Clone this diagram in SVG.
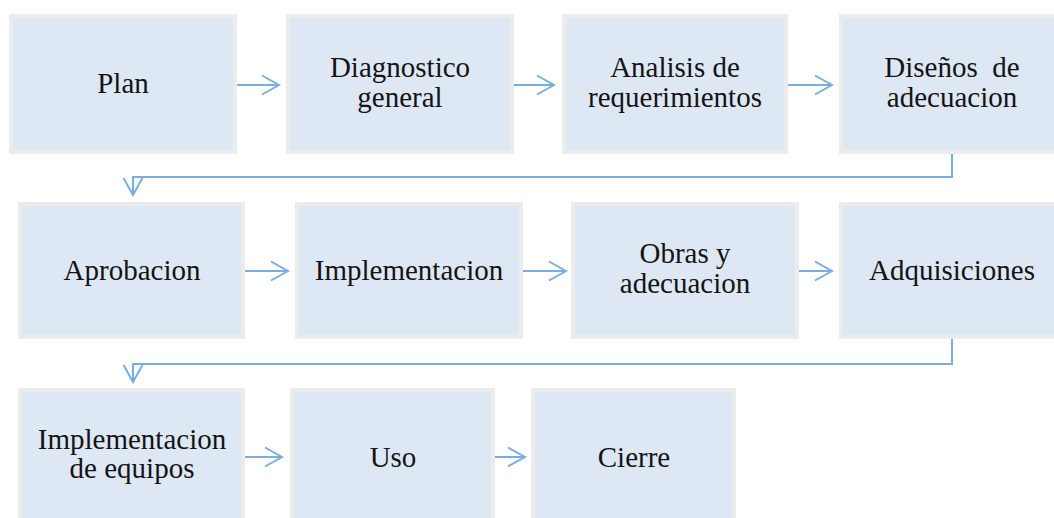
<svg xmlns="http://www.w3.org/2000/svg" width="1054" height="518" viewBox="0 0 1054 518">
<style>
.box{fill:#dde8f4;stroke:#ececec;stroke-width:4}
.c{fill:none;stroke:#79aede;stroke-width:2}
</style>
<defs>
<marker id="ah" markerUnits="userSpaceOnUse" viewBox="0 0 20 22" refX="18" refY="11" markerWidth="20" markerHeight="22" orient="auto">
<path d="M1,1.5 L18,11 L1,20.5" fill="none" stroke="#79aede" stroke-width="2"/>
</marker>
</defs>
<rect width="1054" height="518" fill="#ffffff"/>
<g id="connectors">
<path class="c" d="M237,85 H279" marker-end="url(#ah)"/>
<path class="c" d="M514,85 H554" marker-end="url(#ah)"/>
<path class="c" d="M788,85 H832" marker-end="url(#ah)"/>
<path class="c" d="M952,154 V177 H133 V195" marker-end="url(#ah)"/>
<path class="c" d="M245,271 H288" marker-end="url(#ah)"/>
<path class="c" d="M523,271 H566" marker-end="url(#ah)"/>
<path class="c" d="M799,271 H832" marker-end="url(#ah)"/>
<path class="c" d="M952,339 V364 H133 V382" marker-end="url(#ah)"/>
<path class="c" d="M245,457 H282" marker-end="url(#ah)"/>
<path class="c" d="M495,457 H525" marker-end="url(#ah)"/>
</g>
<g font-family="Liberation Serif" font-size="29" fill="#141414" text-anchor="middle">
<g id="n1"><rect class="box" x="11" y="16" width="224" height="136"/><text x="123" y="93">Plan</text></g>
<g id="n2"><rect class="box" x="288" y="16" width="224" height="136"/><text x="400" y="77">Diagnostico</text><text x="400" y="107">general</text></g>
<g id="n3"><rect class="box" x="564" y="16" width="222" height="136"/><text x="675" y="77">Analisis de</text><text x="675" y="107">requerimientos</text></g>
<g id="n4"><rect class="box" x="841" y="16" width="224" height="136"/><text x="952" y="77" xml:space="preserve">Diseños  de</text><text x="952" y="107">adecuacion</text></g>
<g id="n5"><rect class="box" x="20" y="204" width="223" height="133"/><text x="132" y="280">Aprobacion</text></g>
<g id="n6"><rect class="box" x="297" y="204" width="224" height="133"/><text x="409" y="280">Implementacion</text></g>
<g id="n7"><rect class="box" x="573" y="204" width="224" height="133"/><text x="685" y="263">Obras y</text><text x="685" y="293">adecuacion</text></g>
<g id="n8"><rect class="box" x="841" y="204" width="224" height="133"/><text x="952" y="280">Adquisiciones</text></g>
<g id="n9"><rect class="box" x="20" y="390" width="223" height="134"/><text x="132" y="449">Implementacion</text><text x="132" y="478">de equipos</text></g>
<g id="n10"><rect class="box" x="292" y="390" width="201" height="134"/><text x="393" y="467">Uso</text></g>
<g id="n11"><rect class="box" x="533" y="390" width="201" height="134"/><text x="634" y="467">Cierre</text></g>
</g>
</svg>
